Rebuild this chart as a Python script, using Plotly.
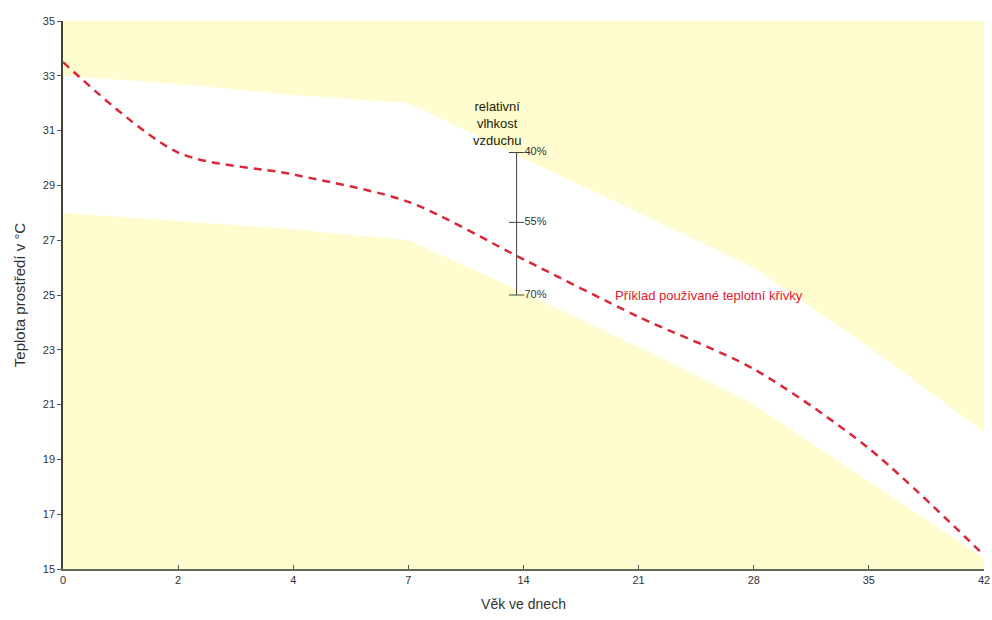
import plotly.graph_objects as go

# Categories (evenly spaced on the axis)
days = ["0", "2", "4", "7", "14", "21", "28", "35", "42"]
# Recommended band (upper / lower limits, °C)
upper_limit = [33.0, 32.7, 32.3, 32.0, 30.0, 28.0, 26.0, 23.1, 20.0]
lower_limit = [28.0, 27.7, 27.4, 27.0, 25.1, 23.1, 21.0, 18.2, 15.4]
# Example temperature curve (°C)
example_curve = [33.5, 30.2, 29.4, 28.4, 26.3, 24.2, 22.3, 19.4, 15.5]
# Humidity scale
humidity_labels = ["40%", "55%", "70%"]
humidity_temps = [30.2, 27.65, 25.0]
humidity_pos = 3.94

x_idx = list(range(len(days)))

YELLOW = "#FFFCCF"
RED = "#D8283A"
FONT = "Liberation Sans, Arial, sans-serif"

fig = go.Figure()

fig.add_trace(go.Scatter(x=x_idx, y=lower_limit, mode="lines",
                         line=dict(width=0, color="white"), hoverinfo="skip",
                         showlegend=False))
fig.add_trace(go.Scatter(x=x_idx, y=upper_limit, mode="lines", fill="tonexty",
                         fillcolor="white", line=dict(width=0, color="white"),
                         hoverinfo="skip", showlegend=False))

fig.add_trace(go.Scatter(x=x_idx, y=example_curve, mode="lines",
                         line=dict(color=RED, width=2.5, dash="8px,6px",
                                   shape="spline", smoothing=0.8),
                         showlegend=False))

# humidity scale bar
fig.add_trace(go.Scatter(x=[humidity_pos] * len(humidity_temps), y=humidity_temps,
                         mode="lines+markers+text",
                         line=dict(color="#444444", width=1),
                         marker=dict(symbol="line-ew-open", size=11,
                                     line=dict(color="#444444", width=1)),
                         text=humidity_labels, textposition="middle right",
                         textfont=dict(family=FONT, size=11, color="#333333"),
                         showlegend=False, hoverinfo="skip"))

fig.add_annotation(x=humidity_pos - 0.17, y=30.3, xref="x", yref="y",
                   text="relativní<br>vlhkost<br>vzduchu", showarrow=False,
                   xanchor="center", yanchor="bottom", align="center",
                   font=dict(family=FONT, size=13, color="#222200"))

fig.add_annotation(x=4.78, y=25.0, xref="x", yref="y",
                   text="Příklad používané teplotní křivky", showarrow=False,
                   xanchor="left", yanchor="middle",
                   font=dict(family=FONT, size=13, color="#E0202A"))

fig.update_layout(
    width=992, height=620,
    margin=dict(l=63, r=8, t=21, b=51, autoexpand=False),
    paper_bgcolor="white",
    plot_bgcolor=YELLOW,
    font=dict(family=FONT, size=11, color="#333333"),
    xaxis=dict(range=[0, 8], tickmode="array", tickvals=x_idx, ticktext=days,
               showgrid=False, zeroline=False, showline=True, linecolor="#666655",
               linewidth=1.5, ticks="inside", ticklen=4, tickcolor="#555555",
               tickfont=dict(size=11), automargin=False,
               title=dict(text="Věk ve dnech", font=dict(size=14, color="#333333"),
                          standoff=14)),
    yaxis=dict(range=[15, 35], tickmode="array",
               tickvals=[15, 17, 19, 21, 23, 25, 27, 29, 31, 33, 35],
               showgrid=False, zeroline=False, showline=True, linecolor="#444433",
               linewidth=1.5, ticks="outside", ticklen=4, tickcolor="#555555",
               tickfont=dict(size=11), automargin=False,
               title=dict(text="Teplota prostředí v °C",
                          font=dict(size=15, color="#333333"), standoff=14)),
)

fig.write_html(
    "out.html",
    config={"displayModeBar": False},
    post_script="document.body.style.margin='0';document.body.style.overflow='hidden';",
)
